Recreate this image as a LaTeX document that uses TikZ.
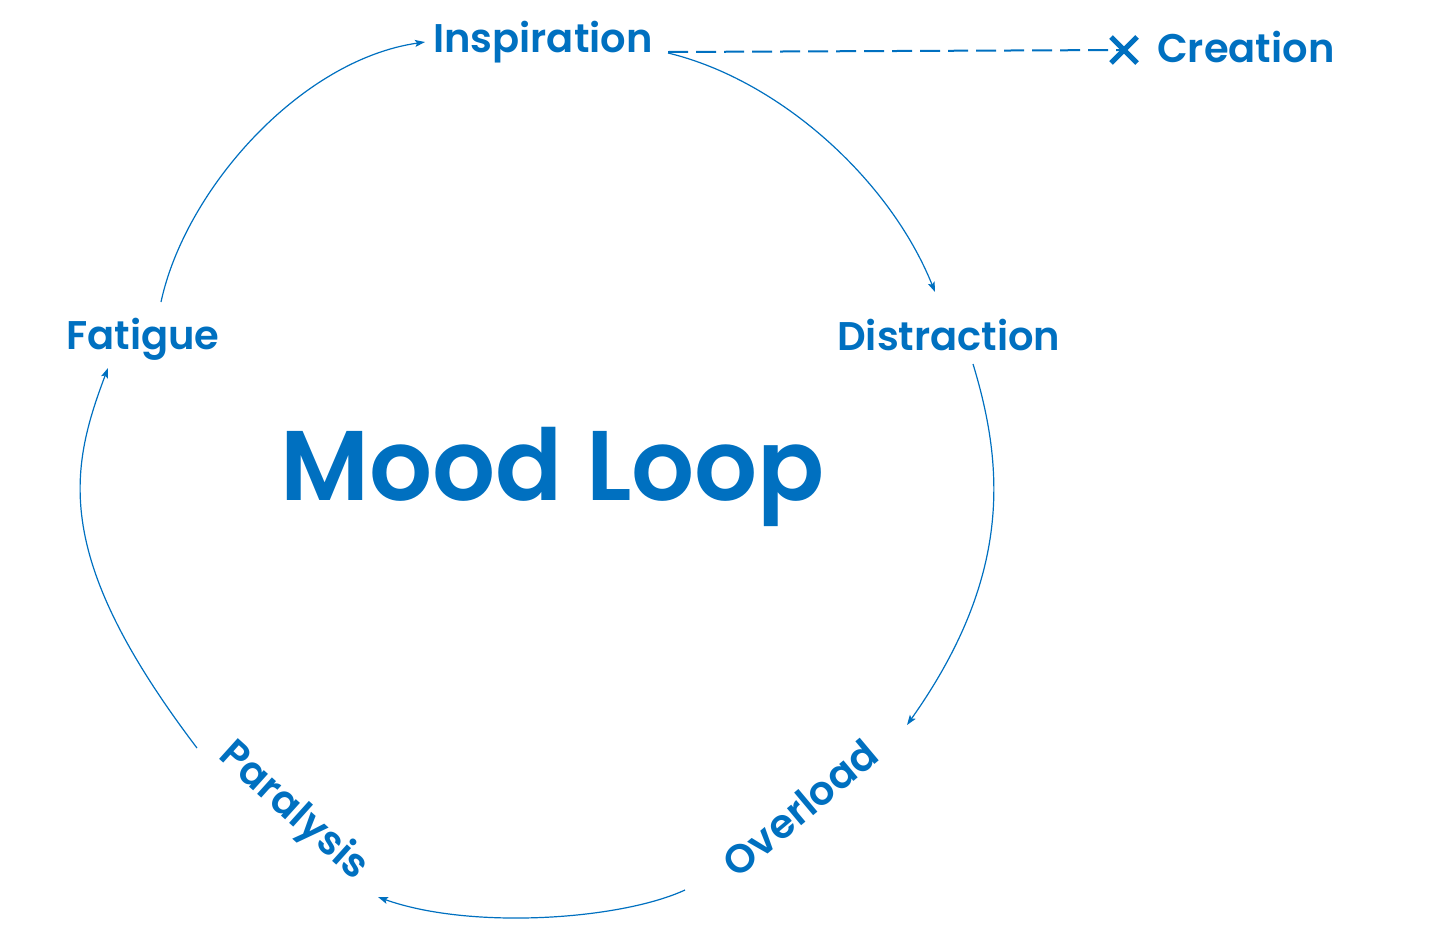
\documentclass[tikz,border=0pt]{standalone}
\usepackage{fontspec}
\setmainfont{Poppins}
\newfontfamily\labelfont{Poppins SemiBold}
\newfontfamily\titlefont{Poppins SemiBold}
\usetikzlibrary{arrows.meta}
\definecolor{moodblue}{RGB}{0,112,192}
\begin{document}
\begin{tikzpicture}[x=1pt,y=-1pt,
  lbl/.style={text=moodblue, font=\labelfont\fontsize{40}{48}\selectfont, inner sep=0pt},
  title/.style={text=moodblue, font=\titlefont\fontsize{99}{120}\selectfont, inner sep=0pt},
  flow/.style={draw=moodblue, line width=1.2pt, -{Stealth[length=10pt,width=7pt,inset=2pt]}},
  dashline/.style={draw=moodblue, line width=2pt, dash pattern=on 20pt off 8pt},
  cross/.style={draw=moodblue, line width=5pt}
]
\useasboundingbox (0,0) rectangle (1456,935);

% labels
\node[lbl, anchor=base west] (insp) at (433,52) {Inspiration};
\node[lbl, anchor=base west] (crea) at (1157,62) {Creation};
\node[lbl, anchor=base west] (dist) at (837,350) {Distraction};
\node[lbl, anchor=base west] (fati) at (66,349) {Fatigue};
\node[lbl, rotate=40] (over) at (800,808) {Overload};
\node[lbl, rotate=-42] (para) at (293,812) {Paralysis};
\node[title, anchor=base west] (mood) at (280,500) {Mood Loop};

% connector end points
\coordinate (i1) at (668,53);
\coordinate (d0) at (935,292);
\coordinate (d1) at (973,364);
\coordinate (o0) at (907,725);
\coordinate (o1) at (685,890);
\coordinate (p0) at (378,897);
\coordinate (p1) at (197,748);
\coordinate (f0) at (108,368);
\coordinate (f1) at (161,302);
\coordinate (i0) at (425,42);
\coordinate (ds) at (668,52);
\coordinate (cx) at (1124,50);

% loop
\draw[flow] (i1) .. controls (780,80) and (890,180) .. (d0);
\draw[flow] (d1) .. controls (1005,469) and (1011,578) .. (o0);
\draw[flow] (o1) .. controls (620,920) and (470,930) .. (p0);
\draw[flow] (p1) .. controls (52,557) and (69,471) .. (f0);
\draw[flow] (f1) .. controls (185,190) and (300,60) .. (i0);

% dashed link to creation with cross
\draw[dashline] (ds) -- (cx);
\draw[cross] ([shift={(-13,-13)}]cx) -- ([shift={(13,13)}]cx);
\draw[cross] ([shift={(-13,13)}]cx) -- ([shift={(13,-13)}]cx);
\end{tikzpicture}
\end{document}
